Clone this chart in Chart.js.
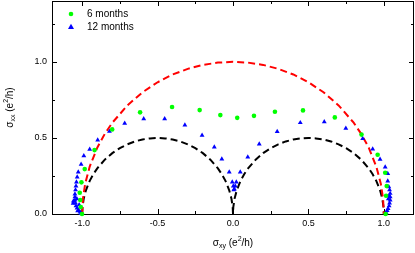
<!DOCTYPE html>
<html>
<head>
<meta charset="utf-8">
<script src="https://cdn.jsdelivr.net/npm/chart.js@4.4.0/dist/chart.umd.min.js"></script>
<style>
  body { margin: 0; background: #fff; }
  canvas { display: block; }
</style>
</head>
<body>
<canvas id="sigmaChart" width="415" height="253"></canvas>
<script>
// 6 months (green dots)
const sixMonthX = [-1.001, -1.009, -1.013, -1.016, -1.005, -0.983, -0.918, -0.801,
    -0.616, -0.404, -0.221, -0.084, 0.028, 0.139, 0.278, 0.464, 0.675,
    0.852, 0.959, 1.009, 1.019, 1.015, 1.012];
const sixMonthY = [0.0, 0.046, 0.092, 0.140, 0.208, 0.295, 0.420, 0.556,
    0.668, 0.703, 0.683, 0.650, 0.632, 0.645, 0.672, 0.681, 0.635,
    0.522, 0.389, 0.271, 0.184, 0.120, 0.0];

// 12 months (blue triangles)
const twelveMonthX = [-1.008, -1.014, -1.024, -1.034, -1.041, -1.044, -1.048, -1.048, -1.048, -1.044,
    -1.041, -1.038, -1.033, -1.026, -1.007, -0.989, -0.950, -0.897, -0.819, -0.718,
    -1.030, -1.020, -1.035, -1.060, -1.058,
    -0.592, -0.453, -0.319, -0.205, -0.124, -0.074, -0.025, -0.005, 0.002, 0.005,
    0.009, 0.015, 0.022, 0.048, 0.098, 0.174, 0.293, 0.446, 0.605, 0.748,
    0.860, 0.926, 0.975, 1.009, 1.026, 1.026, 1.033, 1.038, 1.042, 1.042,
    1.042, 1.038, 1.035, 1.028, 1.022, 1.015, 1.030, 1.035];
const twelveMonthY = [0.003, 0.013, 0.026, 0.039, 0.053, 0.072, 0.092, 0.112, 0.131, 0.158,
    0.184, 0.210, 0.243, 0.276, 0.326, 0.383, 0.425, 0.486, 0.543, 0.596,
    0.020, 0.060, 0.100, 0.070, 0.085,
    0.626, 0.626, 0.584, 0.517, 0.440, 0.361, 0.276, 0.210, 0.184, 0.158,
    0.164, 0.184, 0.210, 0.276, 0.374, 0.460, 0.542, 0.600, 0.606, 0.563,
    0.496, 0.427, 0.359, 0.309, 0.266, 0.217, 0.179, 0.158, 0.135, 0.112,
    0.092, 0.072, 0.053, 0.036, 0.023, 0.010, 0.100, 0.120];

// red dashed semicircle (radius 1)
const outerX = [-1, -0.995, -0.98, -0.95, -0.9, -0.85, -0.8, -0.7, -0.6, -0.5, -0.4, -0.3, -0.2, -0.1,
    0, 0.1, 0.2, 0.3, 0.4, 0.5, 0.6, 0.7, 0.8, 0.85, 0.9, 0.95, 0.98, 0.995, 1];
const outerY = [0, 0.0999, 0.199, 0.312, 0.436, 0.527, 0.6, 0.714, 0.8, 0.866, 0.917, 0.954, 0.980, 0.995,
    1, 0.995, 0.980, 0.954, 0.917, 0.866, 0.8, 0.714, 0.6, 0.527, 0.436, 0.312, 0.199, 0.0999, 0];

// black dashed double semicircle (radius 0.5)
const innerX = [-1, -0.998, -0.99, -0.975, -0.95, -0.925, -0.9, -0.85, -0.8, -0.75, -0.7, -0.65, -0.6, -0.55,
    -0.5, -0.45, -0.4, -0.35, -0.3, -0.25, -0.2, -0.15, -0.1, -0.075, -0.05, -0.025, -0.01, -0.002,
    0, 0.002, 0.01, 0.025, 0.05, 0.075, 0.1, 0.15, 0.2, 0.25, 0.3, 0.35, 0.4, 0.45,
    0.5, 0.55, 0.6, 0.65, 0.7, 0.75, 0.8, 0.85, 0.9, 0.925, 0.95, 0.975, 0.99, 0.998, 1];
const innerY = [0, 0.0447, 0.0995, 0.156, 0.218, 0.263, 0.3, 0.357, 0.4, 0.433, 0.458, 0.477, 0.490, 0.497,
    0.5, 0.497, 0.490, 0.477, 0.458, 0.433, 0.4, 0.357, 0.3, 0.263, 0.218, 0.156, 0.0995, 0.0447,
    0, 0.0447, 0.0995, 0.156, 0.218, 0.263, 0.3, 0.357, 0.4, 0.433, 0.458, 0.477, 0.490, 0.497,
    0.5, 0.497, 0.490, 0.477, 0.458, 0.433, 0.4, 0.357, 0.3, 0.263, 0.218, 0.156, 0.0995, 0.0447, 0];

const xMajor = [-1.0, -0.5, 0.0, 0.5, 1.0];
const xMinor = [-0.75, -0.25, 0.25, 0.75];
const yMajor = [0.0, 0.5, 1.0];
const yMinor = [0.25, 0.75, 1.25];

const FONT = "'Liberation Sans', Arial, sans-serif";

function toPoints(xs, ys) {
    return xs.map((x, i) => ({ x: x, y: ys[i] }));
}

// draws text with sub/superscript parts, centred on (0,0) of current transform
function drawRich(ctx, parts, size) {
    let total = 0;
    parts.forEach(p => {
        ctx.font = (p.sub || p.sup ? Math.round(size * 0.7) : size) + 'px ' + FONT;
        p.w = ctx.measureText(p.t).width;
        total += p.w;
    });
    let x = -total / 2;
    parts.forEach(p => {
        ctx.font = (p.sub || p.sup ? Math.round(size * 0.7) : size) + 'px ' + FONT;
        const dy = p.sub ? 3 : (p.sup ? -4 : 0);
        ctx.fillText(p.t, x, dy);
        x += p.w;
    });
}

// no extra room for tick labels, the plot box fills the canvas
function noPadding(scale) {
    scale.paddingTop = 0;
    scale.paddingBottom = 0;
    scale.paddingLeft = 0;
    scale.paddingRight = 0;
}

// box frame with inward ticks on all four sides + axis titles
const framePlugin = {
    id: 'frame',
    beforeDatasetsDraw(chart) {
        const ctx = chart.ctx;
        const a = chart.chartArea;
        const xs = chart.scales.x, ys = chart.scales.y;
        ctx.save();
        ctx.strokeStyle = '#000';
        ctx.lineWidth = 1;
        ctx.strokeRect(Math.round(a.left) + 0.5, Math.round(a.top) + 0.5,
            Math.round(a.right - a.left) - 1, Math.round(a.bottom - a.top));
        ctx.beginPath();
        const xt = (v, len) => {
            const px = Math.round(xs.getPixelForValue(v)) + 0.5;
            ctx.moveTo(px, a.bottom); ctx.lineTo(px, a.bottom - len);
            ctx.moveTo(px, a.top); ctx.lineTo(px, a.top + len);
        };
        const yt = (v, len) => {
            const py = Math.round(ys.getPixelForValue(v)) + 0.5;
            ctx.moveTo(a.left, py); ctx.lineTo(a.left + len, py);
            ctx.moveTo(a.right, py); ctx.lineTo(a.right - len, py);
        };
        xMajor.forEach(v => xt(v, 5));
        xMinor.forEach(v => xt(v, 3));
        yMajor.forEach(v => yt(v, 5));
        yMinor.forEach(v => yt(v, 3));
        ctx.stroke();
        ctx.restore();
    },
    afterDraw(chart) {
        const ctx = chart.ctx;
        const a = chart.chartArea;
        ctx.save();
        ctx.fillStyle = '#000';
        ctx.textBaseline = 'middle';
        ctx.textAlign = 'left';
        // x title
        ctx.save();
        ctx.translate((a.left + a.right) / 2, a.bottom + 29);
        drawRich(ctx, [{ t: 'σ' }, { t: 'xy', sub: true }, { t: ' (e' }, { t: '2', sup: true }, { t: '/h)' }], 10);
        ctx.restore();
        // y title
        ctx.save();
        ctx.translate(10, (a.top + a.bottom) / 2);
        ctx.rotate(-Math.PI / 2);
        drawRich(ctx, [{ t: 'σ' }, { t: 'xx', sub: true }, { t: ' (e' }, { t: '2', sup: true }, { t: '/h)' }], 10);
        ctx.restore();

        // legend inside the plot, top left
        ctx.font = '10px ' + FONT;
        [0, 1].forEach(i => {
            const ds = chart.data.datasets[i];
            const cx = a.left + 19, cy = a.top + 13 + i * 13;
            ctx.fillStyle = ds.backgroundColor;
            ctx.beginPath();
            if (ds.pointStyle === 'triangle') {
                ctx.moveTo(cx, cy - 3.2);
                ctx.lineTo(cx + 3, cy + 2);
                ctx.lineTo(cx - 3, cy + 2);
                ctx.closePath();
            } else {
                ctx.arc(cx, cy, 2.3, 0, Math.PI * 2);
            }
            ctx.fill();
            ctx.fillStyle = '#000';
            ctx.fillText(ds.label, a.left + 35, cy);
        });
        ctx.restore();
    }
};

const ctx = document.getElementById('sigmaChart').getContext('2d');
const sigmaChart = new Chart(ctx, {
    type: 'scatter',
    data: {
        datasets: [{
            label: '6 months',
            data: toPoints(sixMonthX, sixMonthY),
            backgroundColor: '#00ff00',
            borderWidth: 0,
            pointStyle: 'circle',
            pointRadius: 2.3,
            clip: false
        }, {
            label: '12 months',
            data: toPoints(twelveMonthX, twelveMonthY),
            backgroundColor: '#0000ff',
            borderWidth: 0,
            pointStyle: 'triangle',
            pointRadius: 2.8,
            clip: false
        }, {
            label: 'outer',
            data: toPoints(outerX, outerY),
            showLine: true,
            borderColor: '#ff0000',
            borderWidth: 2,
            borderDash: [7, 4],
            pointRadius: 0,
            tension: 0
        }, {
            label: 'inner',
            data: toPoints(innerX, innerY),
            showLine: true,
            borderColor: '#000000',
            borderWidth: 2,
            borderDash: [7, 4],
            pointRadius: 0,
            tension: 0
        }]
    },
    options: {
        responsive: false,
        animation: false,
        layout: { autoPadding: false, padding: { top: 1, right: 1, left: 0, bottom: 0 } },
        plugins: {
            legend: { display: false },
            tooltip: { enabled: false }
        },
        scales: {
            x: {
                type: 'linear',
                min: -1.2,
                max: 1.2,
                grid: { display: false, drawTicks: false },
                border: { display: false },
                afterBuildTicks: (scale) => { scale.ticks = xMajor.map(v => ({ value: v })); },
                afterFit: (scale) => { scale.height = 39; noPadding(scale); },
                ticks: {
                    autoSkip: false,
                    maxRotation: 0,
                    padding: 4,
                    color: '#000',
                    font: { family: FONT, size: 9 },
                    callback: (v) => Number(v).toFixed(1)
                }
            },
            y: {
                type: 'linear',
                min: 0,
                max: 1.4,
                grid: { display: false, drawTicks: false },
                border: { display: false },
                afterBuildTicks: (scale) => { scale.ticks = yMajor.map(v => ({ value: v })); },
                afterFit: (scale) => { scale.width = 52; noPadding(scale); },
                ticks: {
                    autoSkip: false,
                    padding: 5,
                    color: '#000',
                    font: { family: FONT, size: 9 },
                    callback: (v) => Number(v).toFixed(1)
                }
            }
        }
    },
    plugins: [framePlugin]
});
</script>
</body>
</html>
